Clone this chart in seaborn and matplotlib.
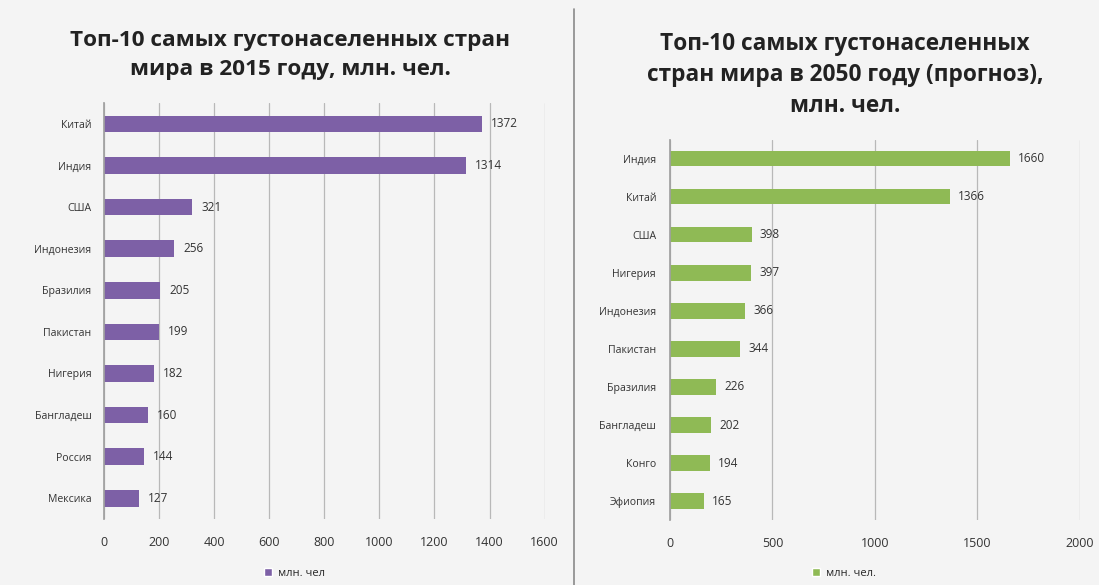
import matplotlib
matplotlib.use("Agg")
import matplotlib.pyplot as plt
import seaborn as sns
import pandas as pd
from matplotlib.lines import Line2D
from matplotlib.patches import Patch

countries_2015 = ["Китай", "Индия", "США", "Индонезия", "Бразилия", "Пакистан",
                  "Нигерия", "Бангладеш", "Россия", "Мексика"]
values_2015 = [1372, 1314, 321, 256, 205, 199, 182, 160, 144, 127]

countries_2050 = ["Индия", "Китай", "США", "Нигерия", "Индонезия", "Пакистан",
                  "Бразилия", "Бангладеш", "Конго", "Эфиопия"]
values_2050 = [1660, 1366, 398, 397, 366, 344, 226, 202, 194, 165]

title_2015 = "Топ-10 самых густонаселенных стран\nмира в 2015 году, млн. чел."
title_2050 = "Топ-10 самых густонаселенных\nстран мира в 2050 году (прогноз),\nмлн. чел."
legend_2015 = "млн. чел"
legend_2050 = "млн. чел."

purple = "#7d60a6"
green = "#8fba55"
bg = "#f4f4f4"

sns.set_theme(style="white")
plt.rcParams["font.family"] = ["Open Sans", "DejaVu Sans"]

fig = plt.figure(figsize=(10.99, 5.85), dpi=100)
fig.patch.set_facecolor(bg)

ax1 = fig.add_axes([0.0946, 0.1128, 0.401, 0.711])
ax2 = fig.add_axes([0.6096, 0.111, 0.373, 0.650])

def draw(ax, cats, vals, color, xmax, step, ypad):
    df = pd.DataFrame({"country": cats, "value": vals})
    sns.barplot(data=df, y="country", x="value", orient="h", color=color,
                width=0.4, ax=ax, saturation=1, linewidth=0, edgecolor="none")
    ax.set_facecolor(bg)
    ax.set_xlim(0, xmax)
    ax.set_xticks(range(0, xmax + 1, step))
    ax.grid(axis="x", color="#b8b8b8", linewidth=0.9)
    ax.set_axisbelow(True)
    for s in ["top", "right", "bottom"]:
        ax.spines[s].set_visible(False)
    ax.spines["left"].set_color("#a0a0a0")
    ax.set_xlabel("")
    ax.set_ylabel("")
    ax.tick_params(axis="y", labelsize=7.6, colors="#333333", length=0, pad=ypad)
    ax.tick_params(axis="x", labelsize=9, colors="#333333", length=0, pad=12)
    for i, v in enumerate(vals):
        ax.text(v + xmax * 0.02, i, str(v), va="center", ha="left",
                fontsize=8.5, color="#333333")

draw(ax1, countries_2015, values_2015, purple, 1600, 200, 9)
draw(ax2, countries_2050, values_2050, green, 2000, 500, 10)

fig.text(0.264, 0.906, title_2015, ha="center", va="center", fontsize=16.2,
         fontweight="bold", color="#222222", linespacing=1.45)
fig.text(0.769, 0.872, title_2050, ha="center", va="center", fontsize=16.3,
         fontweight="bold", color="#222222", linespacing=1.4)

h1 = Patch(facecolor=purple)
fig.legend([h1], [legend_2015], loc="center", bbox_to_anchor=(0.268, 0.02),
           frameon=False, fontsize=8, handlelength=0.75, handleheight=0.75,
           handletextpad=0.5)
h2 = Patch(facecolor=green)
fig.legend([h2], [legend_2050], loc="center", bbox_to_anchor=(0.768, 0.02),
           frameon=False, fontsize=8, handlelength=0.75, handleheight=0.75,
           handletextpad=0.5)

fig.add_artist(Line2D([0.5225, 0.5225], [0.0, 0.985], transform=fig.transFigure,
                      color="#8a8a8a", linewidth=1.2))

fig.savefig("out.png", dpi=100, facecolor=bg)
